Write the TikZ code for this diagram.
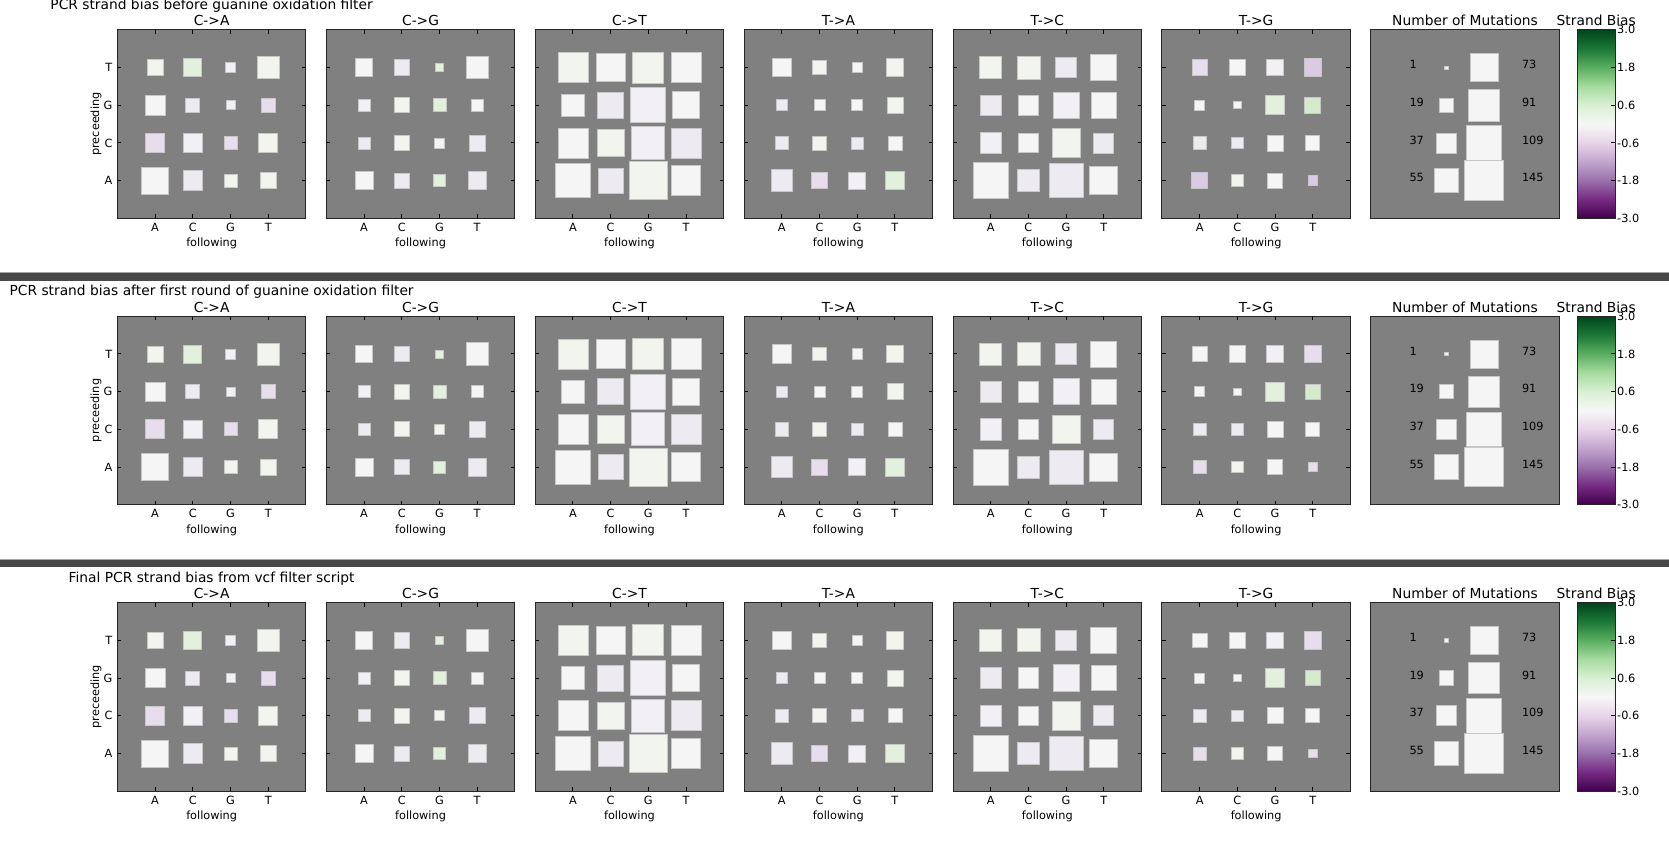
\documentclass[tikz,border=0pt]{standalone}
\usepackage{fontspec}
\setmainfont{DejaVu Sans}
\usepackage{tikz}

\definecolor{panelgray}{HTML}{808080}
\definecolor{sepgray}{HTML}{484848}
\definecolor{sqw}{HTML}{F5F5F5}
\definecolor{sqp0}{HTML}{F2F0F4}
\definecolor{sqp1}{HTML}{EEEAF2}
\definecolor{sqp2}{HTML}{E7DDEC}
\definecolor{sqp3}{HTML}{DACAE4}
\definecolor{sqg1}{HTML}{F1F5EE}
\definecolor{sqg2}{HTML}{E4F0DE}
\definecolor{sqg3}{HTML}{D6EACD}
\definecolor{prgn0}{HTML}{40004B}
\definecolor{prgn1}{HTML}{762A83}
\definecolor{prgn2}{HTML}{9970AB}
\definecolor{prgn3}{HTML}{C2A5CF}
\definecolor{prgn4}{HTML}{E7D4E8}
\definecolor{prgn5}{HTML}{F7F7F7}
\definecolor{prgn6}{HTML}{D9F0D3}
\definecolor{prgn7}{HTML}{A6DBA0}
\definecolor{prgn8}{HTML}{5AAE61}
\definecolor{prgn9}{HTML}{1B7837}
\definecolor{prgn10}{HTML}{00441B}
\pgfdeclareverticalshading{prgn}{100bp}{color(0bp)=(prgn0); color(25bp)=(prgn0);
  color(30bp)=(prgn1); color(35bp)=(prgn2); color(40bp)=(prgn3); color(45bp)=(prgn4);
  color(50bp)=(prgn5); color(55bp)=(prgn6); color(60bp)=(prgn7); color(65bp)=(prgn8);
  color(70bp)=(prgn9); color(75bp)=(prgn10); color(100bp)=(prgn10)}

% cells: rows T,G,C,A; columns A,C,G,T; side/colour
\newcommand{\cellsCA}{16/g1, 18/g2, 10/p0, 22/g1, 19.5/w, 14/p1, 9/p0, 14/p2,
  19/p2, 18.5/p0, 13/p2, 19/g1, 27/w, 19.5/p1, 13/g1, 16/g1}
\newcommand{\cellsCG}{17.5/w, 15.5/p1, 8/g2, 22.5/w, 12/p0, 15/g1, 13/g2, 12/w,
  12/p1, 15/g1, 10/g1, 16/p1, 18/w, 15/p1, 12/g2, 18/p1}
\newcommand{\cellsCT}{30/g1, 28.5/w, 31/g1, 30.3/w, 22.5/w, 26/p1, 35/p0, 27/w,
  30/w, 27.5/g1, 33/p0, 30/p1, 34.3/w, 25/p1, 38.3/g1, 29.5/w}
\newcommand{\cellsTA}{18.5/w, 13.6/g1, 10.3/w, 17.3/g1, 11/p1, 11/w, 11/w, 16/g1,
  13.3/p1, 14/g1, 12/p1, 14/w, 21.5/p1, 16/p2, 17/p0, 18.3/g2}
\newcommand{\cellsTC}{22/g1, 23/g1, 20.7/p1, 26/w, 20.5/p1, 20.5/w, 26.4/p0, 25.5/w,
  21.3/p0, 19.3/w, 28.5/g1, 20/p1, 35.7/w, 21.7/p1, 34.3/p1, 28/w}
\newcommand{\cellsTGfirst}{15.3/p2, 16.3/w, 16.5/p0, 17.7/p3, 10/w, 7.3/w, 19/g2, 16/g3,
  12.7/p1, 11.5/p1, 16/w, 14.2/w, 15.7/p3, 11.6/g1, 14.6/w, 9.5/p3}
\newcommand{\cellsTGlater}{14.5/w, 16.3/w, 16.5/p0, 17.5/p2, 10/w, 7.3/w, 18.5/g2, 15/g3,
  12.5/p1, 11.5/p1, 16/w, 14.2/w, 13/p2, 11.6/g1, 14.6/w, 8.5/p2}

\newcommand{\hintonpanel}[4]{%
  \fill[panelbg] (#1,#2) rectangle ++(188.5,188.5);
  \foreach \sz/\clr [count=\i from 0] in #4 {
    \pgfmathtruncatemacro{\rw}{\i/4}
    \pgfmathtruncatemacro{\cl}{mod(\i,4)}
    \filldraw[cell,fill=sq\clr] ({#1+(\cl+1)*37.7-\sz/2},{#2+(\rw+1)*37.7-\sz/2}) rectangle ++(\sz,\sz);
  }
  \foreach \k/\b in {1/A,2/C,3/G,4/T} {
    \draw[tickmark] ({#1+\k*37.7},#2) -- ++(0,4);
    \draw[tickmark] ({#1+\k*37.7},{#2+188.5}) -- ++(0,-4);
    \draw[tickmark] (#1,{#2+\k*37.7}) -- ++(4,0);
    \draw[tickmark] ({#1+188.5},{#2+\k*37.7}) -- ++(-4,0);
    \node[ticklabel] at ({#1+\k*37.7},{#2+201.5}) {\b};
  }
  \draw[panelframe] (#1,#2) rectangle ++(188.5,188.5);
  \node[paneltitle] at ({#1+94.25},{#2-3.8}) {#3};
  \node[axlabel] at ({#1+94.25},{#2+217.2}) {following};
}

\newcommand{\mutlegend}[2]{%
  \fill[panelbg] (#1,#2) rectangle ++(188.5,188.5);
  \foreach \na/\nb [count=\k] in {1/73, 19/91, 37/109, 55/145} {
    \node[legnum] at ({#1+38.5},{#2+\k*37.7-3}) {\na};
    \node[legnum] at ({#1+151},{#2+\k*37.7-3}) {\nb};
    \pgfmathsetmacro{\sa}{3.289*sqrt(\na)}
    \pgfmathsetmacro{\sb}{3.289*sqrt(\nb)}
    \filldraw[cell,fill=sqw] ({#1+75.4-\sa/2},{#2+\k*37.7-\sa/2}) rectangle ++(\sa,\sa);
    \filldraw[cell,fill=sqw] ({#1+113.1-\sb/2},{#2+\k*37.7-\sb/2}) rectangle ++(\sb,\sb);
  }
  \draw[panelframe] (#1,#2) rectangle ++(188.5,188.5);
  \node[paneltitle] at ({#1+94.25},{#2-3.8}) {Number of Mutations};
}

\newcommand{\biasbar}[2]{%
  \shade[shading=prgn] (#1,#2) rectangle ++(37.5,188.5);
  \foreach \v [count=\k from 0] in {3.0,1.8,0.6,-0.6,-1.8,-3.0} {
    \draw[tickmark] ({#1+37.5},{#2+\k*37.7}) -- ++(-4,0);
    \node[barlabel] at ({#1+39.5},{#2+\k*37.7}) {\v};
  }
  \draw[panelframe] (#1,#2) rectangle ++(37.5,188.5);
  \node[paneltitle] at ({#1+18.75},{#2-3.8}) {Strand Bias};
}

\begin{document}
\begin{tikzpicture}[x=1pt,y=-1pt,
    panelbg/.style={fill=panelgray},
    panelframe/.style={draw=black!85,line width=1pt},
    cell/.style={draw=black!22,line width=0.7pt},
    tickmark/.style={black,line width=1pt},
    paneltitle/.style={anchor=base,inner sep=0pt,font=\fontsize{13.8}{16}\selectfont},
    rowtitle/.style={anchor=base,inner sep=0pt,font=\fontsize{13.8}{16}\selectfont},
    ticklabel/.style={anchor=base,inner sep=0pt,font=\fontsize{11.3}{13}\selectfont},
    axlabel/.style={anchor=base,inner sep=0pt,font=\fontsize{11.3}{13}\selectfont},
    legnum/.style={anchor=west,inner sep=0pt,font=\fontsize{11.3}{13}\selectfont},
    barlabel/.style={anchor=west,inner sep=0pt,font=\fontsize{11.3}{13}\selectfont},
    sepbar/.style={fill=sepgray}]
\useasboundingbox[fill=white] (0,0) rectangle (1669,842);

\foreach \ry/\rowtext [count=\r] in {29.8/{PCR strand bias before guanine oxidation filter},
    316.2/{PCR strand bias after first round of guanine oxidation filter},
    602.6/{Final PCR strand bias from vcf filter script}} {
  \node[rowtitle] (rowtitle\r) at (211.6,{\ry-20.5}) {\rowtext};
  \hintonpanel{117.4}{\ry}{C->A}{\cellsCA}
  \hintonpanel{326.3}{\ry}{C->G}{\cellsCG}
  \hintonpanel{535.2}{\ry}{C->T}{\cellsCT}
  \hintonpanel{744.1}{\ry}{T->A}{\cellsTA}
  \hintonpanel{953.0}{\ry}{T->C}{\cellsTC}
  \ifnum\r=1
    \hintonpanel{1161.9}{\ry}{T->G}{\cellsTGfirst}
  \else
    \hintonpanel{1161.9}{\ry}{T->G}{\cellsTGlater}
  \fi
  \mutlegend{1370.8}{\ry}
  \biasbar{1577.5}{\ry}
  \foreach \k/\b in {1/T,2/G,3/C,4/A}
    \node[anchor=east,inner sep=0pt,font=\fontsize{11.3}{13}\selectfont] at (112.6,{\ry+\k*37.7}) {\b};
  \node[rotate=90,inner sep=0pt,font=\fontsize{11.3}{13}\selectfont] (preceeding\r) at (96,{\ry+94.25}) {preceeding};
}

\fill[sepbar] (0,272.5) rectangle (1669,281);
\draw[gray!70,line width=0.8pt] (0,272.5) -- (1669,272.5);
\fill[sepbar] (0,558.9) rectangle (1669,567.4);
\draw[gray!70,line width=0.8pt] (0,558.9) -- (1669,558.9);
\end{tikzpicture}
\end{document}
